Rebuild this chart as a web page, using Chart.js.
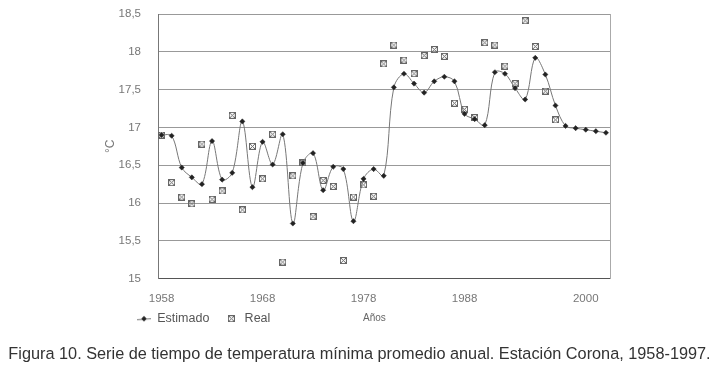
<!DOCTYPE html>
<html>
<head>
<meta charset="utf-8">
<script src="https://cdn.jsdelivr.net/npm/chart.js@4.4.1/dist/chart.umd.min.js"></script>
<style>
  body { margin: 0; background: #fff; }
  #wrap { position: relative; width: 719px; height: 371px; }
  #anos { position: absolute; left: 363px; top: 312px; font: 10px 'Liberation Sans', Arial, sans-serif; color: #666; }
  #caption { position: absolute; left: 0; top: 344px; width: 719px; text-align: center; line-height: 18px;
             font-family: 'Liberation Sans', Arial, sans-serif; font-size: 16.3px; color: #333; white-space: nowrap; }
</style>
</head>
<body>
<div id="wrap">
  <canvas id="grafico" width="719" height="371"></canvas>
  <div id="anos">Años</div>
  <div id="caption">Figura 10. Serie de tiempo de temperatura mínima promedio anual. Estación Corona, 1958-1997.</div>
</div>
<script>
// Datos
const anios = [1958, 1959, 1960, 1961, 1962, 1963, 1964, 1965, 1966, 1967,
               1968, 1969, 1970, 1971, 1972, 1973, 1974, 1975, 1976, 1977,
               1978, 1979, 1980, 1981, 1982, 1983, 1984, 1985, 1986, 1987,
               1988, 1989, 1990, 1991, 1992, 1993, 1994, 1995, 1996, 1997,
               1998, 1999, 2000, 2001, 2002];

const estimado = [16.90, 16.89, 16.47, 16.34, 16.25, 16.82, 16.31, 16.40, 17.08, 16.21,
                  16.81, 16.51, 16.91, 15.73, 16.53, 16.66, 16.17, 16.48, 16.45, 15.76,
                  16.32, 16.45, 16.36, 17.53, 17.71, 17.58, 17.46, 17.61, 17.67, 17.61,
                  17.18, 17.11, 17.03, 17.73, 17.71, 17.52, 17.37, 17.92, 17.70, 17.29,
                  17.02, 16.99, 16.97, 16.95, 16.93];

// Serie observada: 1958-1997
const real = [16.90, 16.27, 16.08, 15.99, 16.78, 16.05, 16.16, 17.16, 15.91, 16.75,
              16.32, 16.91, 15.22, 16.36, 16.53, 15.82, 16.30, 16.22, 15.24, 16.08,
              16.24, 16.09, 17.84, 18.09, 17.89, 17.71, 17.95, 18.03, 17.94, 17.32,
              17.24, 17.13, 18.12, 18.09, 17.81, 17.58, 18.41, 18.07, 17.48, 17.10];

const etiquetasX = ['1958', '1968', '1978', '1988', '2000'];
const etiquetasY = ['15', '15,5', '16', '16,5', '17', '17,5', '18', '18,5'];

const fuente = "'Liberation Sans', Arial, sans-serif";

// Marcador "real": cuadrito con una X
function marcadorReal() {
    const c = document.createElement('canvas');
    c.width = 7; c.height = 7;
    const g = c.getContext('2d');
    g.strokeStyle = '#666';
    g.lineWidth = 1;
    g.strokeRect(0.5, 0.5, 6, 6);
    g.beginPath();
    g.moveTo(1, 1); g.lineTo(6, 6);
    g.moveTo(6, 1); g.lineTo(1, 6);
    g.stroke();
    return c;
}

// Muestra de la leyenda para "Estimado": línea con rombo
function muestraEstimado() {
    const c = document.createElement('canvas');
    c.width = 14; c.height = 7;
    const g = c.getContext('2d');
    g.strokeStyle = '#777';
    g.lineWidth = 1;
    g.beginPath();
    g.moveTo(0, 4.5); g.lineTo(14, 3.5);
    g.stroke();
    g.fillStyle = '#222';
    g.beginPath();
    g.moveTo(7, 0.8); g.lineTo(9.7, 3.5); g.lineTo(7, 6.2); g.lineTo(4.3, 3.5);
    g.closePath();
    g.fill();
    return c;
}

// Mover la leyenda a su sitio, como en la figura
const leyendaDesplazada = {
    id: 'leyendaDesplazada',
    afterLayout(chart) {
        const lg = chart.legend;
        const dx = 22, dy = -21;
        lg.left += dx;
        lg.right += dx;
        lg.top += dy;
        lg.bottom += dy;
    }
};

const ctx = document.getElementById('grafico').getContext('2d');
new Chart(ctx, {
    type: 'line',
    data: {
        datasets: [
            {
                label: 'Estimado',
                data: anios.map((a, i) => ({ x: a, y: estimado[i] })),
                borderColor: '#777',
                borderWidth: 1,
                tension: 0.35,
                pointStyle: 'rectRot',
                pointRadius: 2.6,
                pointBackgroundColor: '#222',
                pointBorderColor: '#222',
                pointBorderWidth: 0.5
            },
            {
                label: 'Real',
                data: real.map((v, i) => ({ x: anios[i], y: v })),
                showLine: false,
                pointStyle: marcadorReal(),
                pointRadius: 3.5
            }
        ]
    },
    options: {
        responsive: false,
        animation: false,
        layout: { padding: { left: 100, right: 109, top: 14, bottom: 15 } },
        plugins: {
            tooltip: { enabled: false },
            legend: {
                position: 'bottom',
                align: 'start',
                labels: {
                    usePointStyle: true,
                    pointStyleWidth: 14,
                    boxHeight: 7,
                    padding: 15,
                    color: '#555',
                    font: { family: fuente, size: 12.5 },
                    generateLabels(chart) {
                        const items = Chart.defaults.plugins.legend.labels.generateLabels(chart);
                        items[0].pointStyle = muestraEstimado();
                        return items;
                    }
                }
            }
        },
        scales: {
            x: {
                type: 'linear',
                min: 1957.65,
                max: 2002.4,
                grid: { display: false, drawTicks: false },
                border: { display: true, color: '#555', width: 1 },
                afterBuildTicks(scale) {
                    // Excel empuja la última etiqueta hasta el borde derecho
                    scale.ticks = etiquetasX.map(t => ({ value: Math.min(Number(t), scale.max - 1.25) }));
                },
                ticks: {
                    autoSkip: false,
                    maxRotation: 0,
                    padding: 13,
                    color: '#777',
                    font: { family: fuente, size: 11.5 },
                    callback: (v, i) => etiquetasX[i]
                }
            },
            y: {
                min: 15,
                max: 18.5,
                afterFit(scale) {
                    scale.width = 58;
                    scale.paddingTop = 0;
                    scale.paddingBottom = 0;
                },
                afterBuildTicks(scale) {
                    scale.ticks = etiquetasY.map(t => ({ value: Number(t.replace(',', '.')) }));
                },
                grid: { color: '#999', lineWidth: 1, drawTicks: false },
                border: { display: true, color: '#777', width: 1 },
                ticks: {
                    padding: 17,
                    color: '#777',
                    font: { family: fuente, size: 11.5 },
                    callback: (v, i) => etiquetasY[i]
                },
                title: {
                    display: true,
                    text: '°C',
                    color: '#777',
                    padding: { top: 3, bottom: 0 },
                    font: { family: fuente, size: 12 }
                }
            },
            borde: {
                position: 'right',
                min: 15,
                max: 18.5,
                afterFit(scale) { scale.width = 0; },
                grid: { display: false, drawTicks: false },
                ticks: { display: false },
                border: { display: true, color: '#aaa', width: 1, dash: [2, 2] }
            }
        }
    },
    plugins: [leyendaDesplazada]
});
</script>
</body>
</html>
